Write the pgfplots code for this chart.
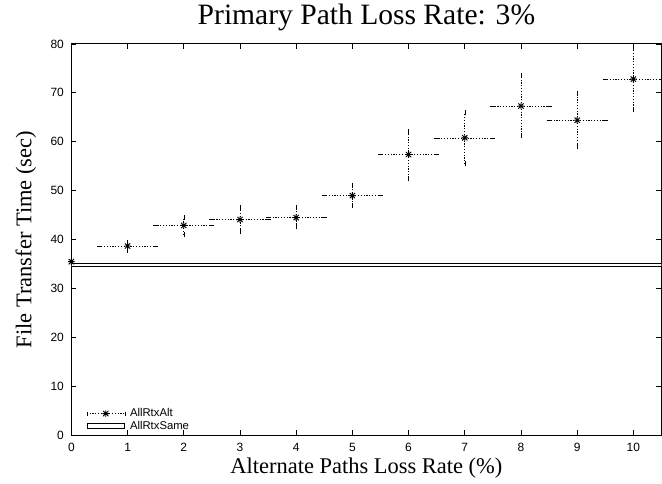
\documentclass[border=0pt]{standalone}
\usepackage{pgfplots}
\pgfplotsset{compat=1.18}
\usepackage{pgfplotstable}
\usepackage{fontspec}
\setmainfont{Liberation Serif}
\newfontfamily\helv{Liberation Sans}

% eight-armed asterisk: a plus overlaid with a cross
\pgfdeclareplotmark{gpstar}{%
  \pgfpathmoveto{\pgfqpoint{-\pgfplotmarksize}{0pt}}%
  \pgfpathlineto{\pgfqpoint{\pgfplotmarksize}{0pt}}%
  \pgfpathmoveto{\pgfqpoint{0pt}{-\pgfplotmarksize}}%
  \pgfpathlineto{\pgfqpoint{0pt}{\pgfplotmarksize}}%
  \pgfpathmoveto{\pgfqpoint{-0.8\pgfplotmarksize}{-0.8\pgfplotmarksize}}%
  \pgfpathlineto{\pgfqpoint{0.8\pgfplotmarksize}{0.8\pgfplotmarksize}}%
  \pgfpathmoveto{\pgfqpoint{-0.8\pgfplotmarksize}{0.8\pgfplotmarksize}}%
  \pgfpathlineto{\pgfqpoint{0.8\pgfplotmarksize}{-0.8\pgfplotmarksize}}%
  \pgfusepathqstroke}

% x, mean, x half-width, upper and lower y error
\pgfplotstableread{
x   y     xe   yp   ym
0   35.5  0    0    0
1   38.7  0.5  0.7  0.9
2   42.9  0.5  1.6  1.8
3   44.1  0.5  2.4  2.5
4   44.5  0.5  2.0  1.9
5   49.0  0.5  2.1  2.0
6   57.4  0.5  4.8  5.0
7   60.8  0.5  5.1  5.3
8   67.3  0.5  6.3  6.1
9   64.4  0.5  5.4  5.3
10  72.8  0.5  6.4  6.2
}\alttable

\begin{document}
\begin{tikzpicture}
\begin{axis}[
  scale only axis,
  width=591pt, height=392pt,
  xmin=0, xmax=10.5, ymin=0, ymax=80,
  xtick={0,1,...,10}, ytick={0,10,...,80},
  tick align=inside,
  major tick length=5pt,
  every tick/.style={black, line width=0.8pt},
  axis line style={line width=1.1pt},
  /pgf/number format/assume math mode=true,
  ticklabel style={font=\helv\fontsize{12}{13}\selectfont},
  xticklabel style={yshift=-4.3pt},
  yticklabel style={xshift=-4pt},
  title={Primary Path Loss Rate: 3\%},
  title style={at={(0.5,1)}, anchor=base, yshift=13pt, font=\fontsize{29.6}{32}\selectfont},
  xlabel={Alternate Paths Loss Rate (\%)},
  xlabel style={at={(0.5,0)}, anchor=base, yshift=-37.8pt, font=\fontsize{22.5}{25}\selectfont},
  ylabel={File Transfer Time (sec)},
  ylabel style={at={(axis description cs:-0.0677,0.5)}, anchor=base, rotate=0, font=\fontsize{22.5}{25}\selectfont},
  legend style={at={(rel axis cs:0.0236,0.006)}, anchor=south west, draw=none, fill=none,
    font=\helv\fontsize{11.3}{12}\selectfont, row sep=0.7pt, inner sep=1pt,
    nodes={inner sep=1pt},
    /tikz/every odd column/.append style={column sep=4pt}},
  legend cell align=left,
  reverse legend,
]
% reference band for retransmissions on the same path
\addplot[draw=black, fill=white, line width=0.6pt,
  legend image code/.code={\draw[black, line width=0.6pt, fill=white] (0pt,-2.5pt) rectangle (38pt,2.5pt);}]
  coordinates {(0,34.5) (10.5,34.5) (10.5,35.1) (0,35.1) (0,34.5)};
\addlegendentry{AllRtxSame}

% retransmissions on alternate paths, with x and y error bars
\addplot[black, only marks, mark=gpstar, mark size=3.3pt, mark options={solid, line width=0.9pt},
  legend image code/.code={
    \draw[black, sharp plot, line width=0.6pt, dash pattern=on 1.2pt off 1.6pt] (0pt,0pt) -- (38pt,0pt);
    \draw[black, solid, line width=0.5pt] (0pt,-2pt) -- (0pt,2pt) (38pt,-2pt) -- (38pt,2pt);
    \draw[black, sharp plot, draw=none, mark=gpstar, mark size=3.3pt, mark options={solid, line width=0.9pt}]
      plot coordinates {(19pt,0pt)};
  },
  error bars/.cd, x dir=both, y dir=both, x explicit, y explicit,
  error bar style={line width=0.6pt, dash pattern=on 1.2pt off 1.6pt},
  error mark options={black, line width=0.5pt, mark size=2.5pt, solid}]
  table[x=x, y=y, x error=xe, y error plus=yp, y error minus=ym] {\alttable};
\addlegendentry{AllRtxAlt}
\end{axis}
% page margins around the plot
\path ([xshift=-71.5pt, yshift=-48.5pt]current axis.south west)
  rectangle ([yshift=44pt]current axis.north east);
\end{tikzpicture}
\end{document}
